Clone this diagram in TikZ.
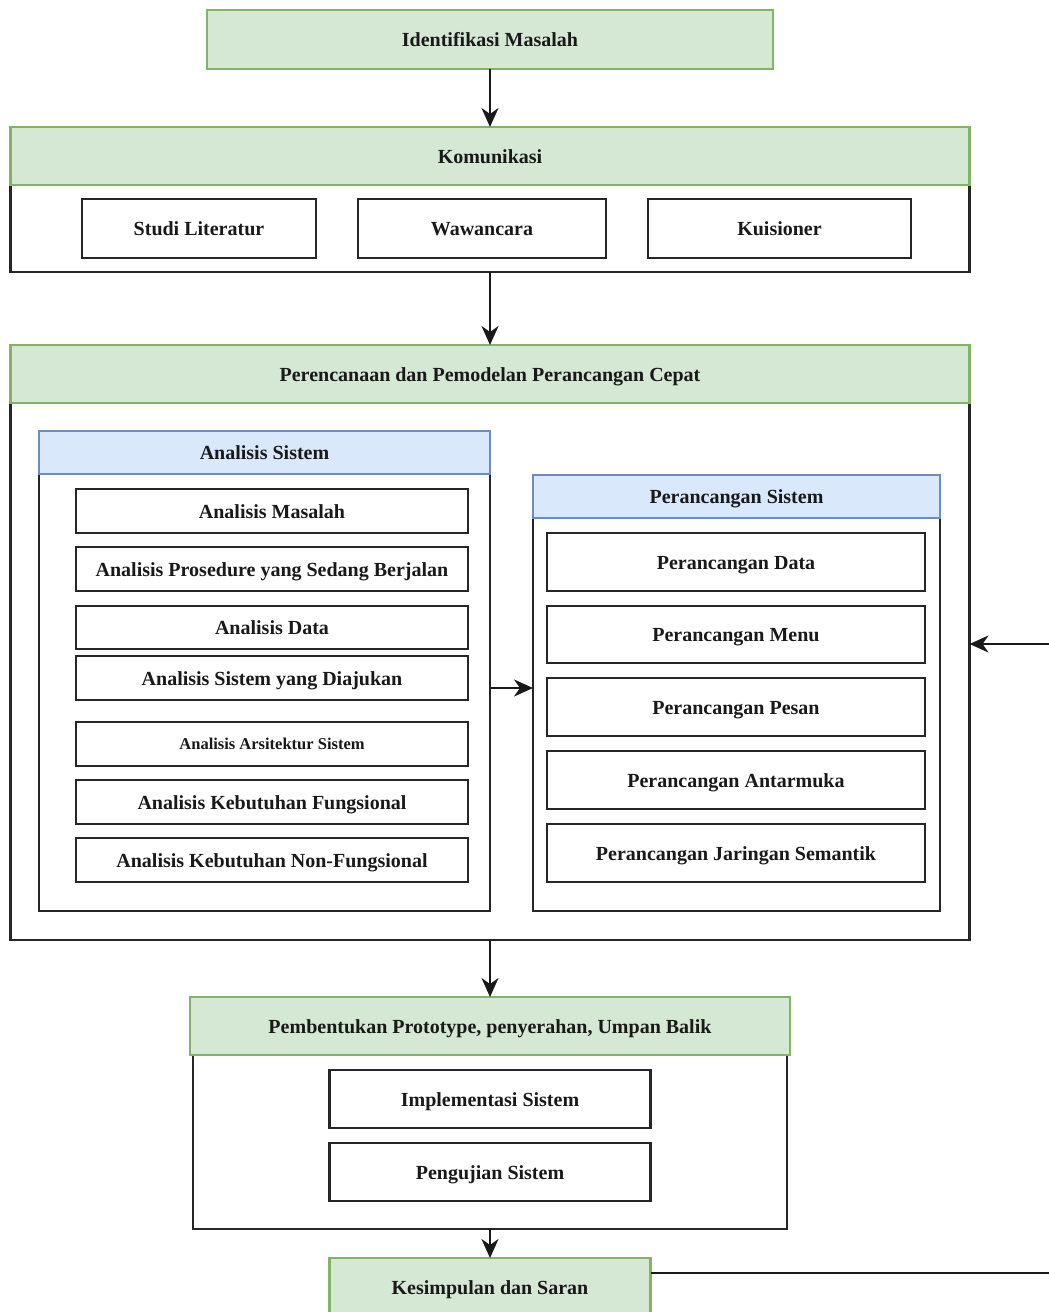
\documentclass[tikz,border=0pt]{standalone}
\usepackage{fontspec}
\setmainfont{Liberation Serif}
\usetikzlibrary{arrows.meta}
\definecolor{gfill}{HTML}{D5E8D4}
\definecolor{gline}{HTML}{82B366}
\definecolor{bfill}{HTML}{DAE8FC}
\definecolor{bline}{HTML}{6C8EBF}
\begin{document}
\begin{tikzpicture}[x=1pt,y=-1pt,
  every node/.style={inner sep=0pt, outer sep=0pt, text height=14pt, text depth=0pt, font=\fontsize{20}{24}\selectfont\bfseries, text=black!90},
  greenbox/.style={draw=gline, fill=gfill, line width=2.2pt, rectangle},
  bluebox/.style={draw=bline, fill=bfill, line width=2.2pt, rectangle},
  itembox/.style={draw=black!85, fill=white, line width=2.6pt, rectangle},
  contbox/.style={draw=black!85, fill=white, line width=2.6pt, rectangle},
  conn/.style={draw=black!90, line width=2.2pt},
  arr/.style={conn, -{Stealth[length=19pt,width=17pt,inset=6pt]}},
  sz/.style 2 args={minimum width=#1pt, minimum height=#2pt}
]
\useasboundingbox (0,0) rectangle (1049,1312);
\clip (0,0) rectangle (1049,1312);

% containers
\node[contbox, sz={959}{87}] (komc) at (490,228.5) {};
\node[contbox, sz={959}{537}] (perc) at (490,671.5) {};
\node[contbox, sz={451}{437}] (anc) at (264.5,692.5) {};
\node[contbox, sz={407}{393}] (prc) at (736.5,714.5) {};
\node[contbox, sz={594}{174}] (pembc) at (490,1142) {};

% headers
\node[greenbox, sz={566}{59}] (ident) at (490,39.5) {Identifikasi Masalah};
\node[greenbox, sz={959}{58}] (komh) at (490,156) {Komunikasi};
\node[greenbox, sz={959}{58}] (perh) at (490,374) {Perencanaan dan Pemodelan Perancangan Cepat};
\node[bluebox, sz={451}{43}] (anh) at (264.5,452.5) {Analisis Sistem};
\node[bluebox, sz={407}{43}] (prh) at (736.5,496.5) {Perancangan Sistem};
\node[greenbox, sz={600}{58}] (pembh) at (490,1026) {Pembentukan Prototype, penyerahan, Umpan Balik};
\node[greenbox, sz={321}{58}] (kes) at (490,1287) {Kesimpulan dan Saran};

% Komunikasi items
\node[itembox, sz={234}{59}] (studi) at (199,228.5) {Studi Literatur};
\node[itembox, sz={248}{59}] (wawan) at (482,228.5) {Wawancara};
\node[itembox, sz={263}{59}] (kuis) at (779.5,228.5) {Kuisioner};

% Analisis items
\node[itembox, sz={392}{44}] (am) at (272,511) {Analisis Masalah};
\node[itembox, sz={392}{44}] (ap) at (272,569) {Analisis Prosedure yang Sedang Berjalan};
\node[itembox, sz={392}{43}] (ad) at (272,627.5) {Analisis Data};
\node[itembox, sz={392}{44}] (asd) at (272,678) {Analisis Sistem yang Diajukan};
\node[itembox, sz={392}{44}, text height=11.5pt, font=\fontsize{16.5}{20}\selectfont\bfseries] (aas) at (272,744) {Analisis Arsitektur Sistem};
\node[itembox, sz={392}{44}] (akf) at (272,802) {Analisis Kebutuhan Fungsional};
\node[itembox, sz={392}{44}] (aknf) at (272,860) {Analisis Kebutuhan Non-Fungsional};

% Perancangan items
\node[itembox, sz={378}{58}] (pd) at (736,562) {Perancangan Data};
\node[itembox, sz={378}{57}] (pm) at (736,634.5) {Perancangan Menu};
\node[itembox, sz={378}{58}] (pp) at (736,707) {Perancangan Pesan};
\node[itembox, sz={378}{58}] (pa) at (736,780) {Perancangan Antarmuka};
\node[itembox, sz={378}{58}] (pj) at (736,853) {Perancangan Jaringan Semantik};

% Pembentukan items
\node[itembox, sz={321}{58}] (impl) at (490,1099) {Implementasi Sistem};
\node[itembox, sz={321}{58}] (uji) at (490,1172) {Pengujian Sistem};

% connectors
\draw[arr] (ident.south) -- (komh.north);
\draw[arr] (komc.south) -- (perh.north);
\coordinate (mid) at (0,688);
\draw[arr] (anc.east |- mid) -- (prc.west |- mid);
\draw[arr] (perc.south) -- (pembh.north);
\draw[arr] (pembc.south) -- (kes.north);
\coordinate (fbB) at (1049,1273);
\coordinate (fbT) at (1049,644);
\draw[conn] (kes.east |- fbB) -- (fbB);
\draw[arr] (fbT) -- (perc.east |- fbT);
\end{tikzpicture}
\end{document}
